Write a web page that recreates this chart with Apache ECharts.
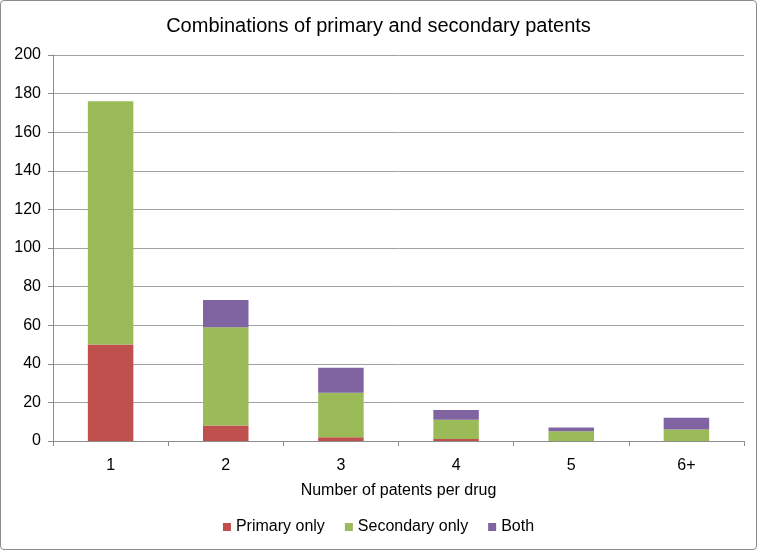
<!DOCTYPE html>
<html><head><meta charset="utf-8">
<script src="https://cdn.jsdelivr.net/npm/echarts@6/dist/echarts.min.js"></script>
<style>html,body{margin:0;padding:0;background:#fff}#c{width:757px;height:550px;box-sizing:border-box;border:1px solid #8c8c8c;border-radius:4px}</style>
</head><body><div id="c"></div>
<script>
const categories = ['1','2','3','4','5','6+'];
const primaryOnly = [50, 8, 2, 1, 0, 0];
const secondaryOnly = [126, 51, 23, 10, 5, 6];
const both = [0, 14, 13, 5, 2, 6];
const yTicks = {min: 0, max: 200, interval: 20};

const chart = echarts.init(document.getElementById('c'));
const font = 'Liberation Sans, Noto Sans, sans-serif';
chart.setOption({
  animation: false,
  title: {text: 'Combinations of primary and secondary patents', left: 'center', top: 10,
    textStyle: {fontFamily: font, fontWeight: 'normal', fontSize: 20, color: '#000'}},
  grid: {left: 52, right: 12, top: 54, bottom: 108},
  legend: {bottom: 9, left: 'center', itemWidth: 8, itemHeight: 8, itemGap: 20,
    icon: 'rect',
    textStyle: {fontFamily: font, fontSize: 16, color: '#000'},
    data: ['Primary only', 'Secondary only', 'Both']},
  xAxis: {type: 'category', data: categories,
    name: 'Number of patents per drug', nameLocation: 'middle', nameGap: 42,
    nameTextStyle: {fontFamily: font, fontSize: 16, color: '#000'},
    axisLine: {lineStyle: {color: '#8c8c8c'}},
    axisTick: {show: true, alignWithLabel: false, length: 5, lineStyle: {color: '#8c8c8c'}},
    axisLabel: {fontFamily: font, fontSize: 16, color: '#000', margin: 17}},
  yAxis: {type: 'value', min: yTicks.min, max: yTicks.max, interval: yTicks.interval,
    axisLine: {show: true, lineStyle: {color: '#8c8c8c'}},
    axisTick: {show: true, length: 5, lineStyle: {color: '#8c8c8c'}},
    splitLine: {lineStyle: {color: '#a0a0a0'}},
    axisLabel: {fontFamily: font, fontSize: 16, color: '#000', margin: 12}},
  series: [
    {name: 'Primary only', type: 'bar', stack: 's', data: primaryOnly, barWidth: '39.5%', itemStyle: {color: '#C0504D'}},
    {name: 'Secondary only', type: 'bar', stack: 's', data: secondaryOnly, barWidth: '39.5%', itemStyle: {color: '#9BBB59'}},
    {name: 'Both', type: 'bar', stack: 's', data: both, barWidth: '39.5%', itemStyle: {color: '#8064A2'}}
  ]
});
</script></body></html>
